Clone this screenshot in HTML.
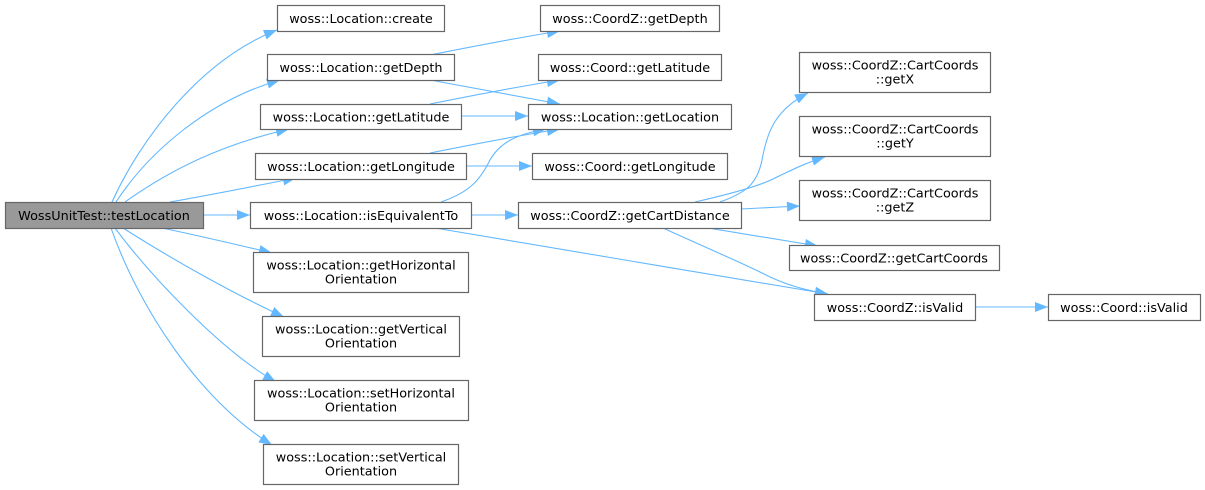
<!DOCTYPE html>
<html><head><meta charset="utf-8"><style>
html,body{margin:0;padding:0;background:#fff;}
svg{display:block;}
text{font-family:"DejaVu Sans","Liberation Sans",sans-serif;font-size:12.8px;fill:#000;text-anchor:middle;}
.n{fill:#fff;stroke:#666;stroke-width:1.2;}
.r{fill:#999;stroke:#666;stroke-width:1.2;}
.e{fill:none;stroke:#63b8ff;stroke-width:1.1;}
</style></head><body>
<svg width="1205" height="490" viewBox="0 0 1205 490" xmlns="http://www.w3.org/2000/svg">
<defs>
<marker id="a" markerUnits="userSpaceOnUse" markerWidth="14" markerHeight="12" refX="13" refY="5" orient="auto" overflow="visible">
<path d="M0,0 L13,5 L0,10 Z" fill="#63b8ff"/>
</marker>
</defs>
<!-- edges -->
<g class="e" marker-end="url(#a)">
<path d="M112,202 C140,140 200,60 277,30"/>
<path d="M116,202 C150,150 210,100 280,80"/>
<path d="M125,202 C170,170 220,145 289,129"/>
<path d="M170,202 C210,195 250,187 296,178"/>
<path d="M203,215 L250,215"/>
<path d="M162,228 C200,236 230,243 272,253"/>
<path d="M123,228 C170,258 230,292 284,317"/>
<path d="M115,228 C150,275 220,350 276,382"/>
<path d="M111,228 C140,310 200,400 272,445"/>
<path d="M430,55 C470,47 510,39 560,31"/>
<path d="M430,80 C470,87 510,95 560,104"/>
<path d="M430,104 C470,96 510,88 560,80"/>
<path d="M461,116 L528,116"/>
<path d="M430,153 C470,145 510,137 560,129"/>
<path d="M466,166 L532,166"/>
<path d="M441,202 C470,192 480,180 490,160 C500,142 518,134 546,129"/>
<path d="M471,215 L518,215"/>
<path d="M435,228 C560,250 700,272 828,294"/>
<path d="M720,202 C745,193 757,185 762,160 C767,132 775,110 808,93"/>
<path d="M695,202 C730,194 760,186 775,178 C792,170 805,163 825,157"/>
<path d="M741,209 C760,208 780,207 800,206"/>
<path d="M708,228 C745,234 780,240 818,246"/>
<path d="M663,228 C700,245 740,262 762,273 C785,285 805,290 828,294"/>
<path d="M975,307 L1048,307"/>
</g>
<!-- nodes -->
<rect class="r" x="5.5" y="202.5" width="198" height="26"/>
<text x="104" y="220">WossUnitTest::testLocation</text>

<rect class="n" x="277.5" y="5.5" width="167" height="26"/>
<text x="361" y="23">woss::Location::create</text>
<rect class="n" x="267.5" y="54.5" width="187" height="26"/>
<text x="361" y="72">woss::Location::getDepth</text>
<rect class="n" x="260.5" y="104.5" width="201" height="25"/>
<text x="361" y="121.5">woss::Location::getLatitude</text>
<rect class="n" x="255.5" y="153.5" width="211" height="26"/>
<text x="361" y="171">woss::Location::getLongitude</text>
<rect class="n" x="250.5" y="202.5" width="221" height="26"/>
<text x="361" y="220">woss::Location::isEquivalentTo</text>

<rect class="n" x="253.5" y="252.5" width="215" height="40"/>
<text x="361" y="269.5">woss::Location::getHorizontal</text>
<text x="361" y="283.5">Orientation</text>
<rect class="n" x="262.5" y="316.5" width="197" height="40"/>
<text x="361" y="333.5">woss::Location::getVertical</text>
<text x="361" y="347.5">Orientation</text>
<rect class="n" x="254.5" y="380.5" width="214" height="40"/>
<text x="361" y="397.5">woss::Location::setHorizontal</text>
<text x="361" y="411.5">Orientation</text>
<rect class="n" x="263.5" y="444.5" width="195" height="40"/>
<text x="361" y="461.5">woss::Location::setVertical</text>
<text x="361" y="475.5">Orientation</text>

<rect class="n" x="540.5" y="5.5" width="179" height="26"/>
<text x="630" y="23">woss::CoordZ::getDepth</text>
<rect class="n" x="538.5" y="54.5" width="183" height="26"/>
<text x="630" y="72">woss::Coord::getLatitude</text>
<rect class="n" x="528.5" y="104.5" width="203" height="25"/>
<text x="630" y="121.5">woss::Location::getLocation</text>
<rect class="n" x="532.5" y="153.5" width="195" height="26"/>
<text x="630" y="171">woss::Coord::getLongitude</text>
<rect class="n" x="518.5" y="202.5" width="223" height="26"/>
<text x="630" y="220">woss::CoordZ::getCartDistance</text>

<rect class="n" x="799.5" y="52.5" width="191" height="40"/>
<text x="895" y="69.5">woss::CoordZ::CartCoords</text>
<text x="895" y="83.5">::getX</text>
<rect class="n" x="799.5" y="116.5" width="191" height="40"/>
<text x="895" y="133.5">woss::CoordZ::CartCoords</text>
<text x="895" y="147.5">::getY</text>
<rect class="n" x="799.5" y="180.5" width="191" height="40"/>
<text x="895" y="197.5">woss::CoordZ::CartCoords</text>
<text x="895" y="211.5">::getZ</text>
<rect class="n" x="789.5" y="245.5" width="210" height="25"/>
<text x="894" y="262.5">woss::CoordZ::getCartCoords</text>
<rect class="n" x="814.5" y="294.5" width="161" height="26"/>
<text x="895" y="312">woss::CoordZ::isValid</text>
<rect class="n" x="1048.5" y="294.5" width="152" height="26"/>
<text x="1124" y="312">woss::Coord::isValid</text>
</svg>
</body></html>
